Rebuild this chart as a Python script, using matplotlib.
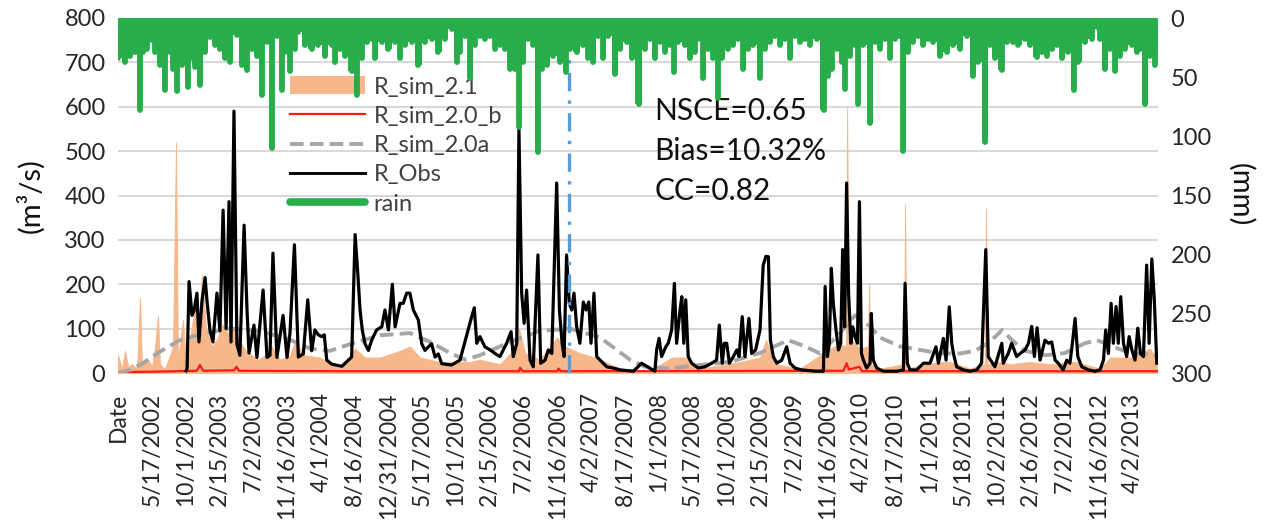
import numpy as np
import matplotlib
matplotlib.use("Agg")
import matplotlib.pyplot as plt
from matplotlib.patches import Patch
from matplotlib.lines import Line2D

plt.rcParams['font.family'] = ['Lato', 'DejaVu Sans']

# days counted from 12/31/2001 ("Date" tick)
tick_labels = ["Date", "5/17/2002", "10/1/2002", "2/15/2003", "7/2/2003", "11/16/2003",
               "4/1/2004", "8/16/2004", "12/31/2004", "5/17/2005", "10/1/2005", "2/15/2006",
               "7/2/2006", "11/16/2006", "4/2/2007", "8/17/2007", "1/1/2008", "5/17/2008",
               "10/1/2008", "2/15/2009", "7/2/2009", "11/16/2009", "4/2/2010", "8/17/2010",
               "1/1/2011", "5/18/2011", "10/2/2011", "2/16/2012", "7/2/2012", "11/16/2012",
               "4/2/2013"]
tick_step = 137
split_day = 1827  # calibration / validation split
stats = ["NSCE=0.65", "Bias=10.32%", "CC=0.82"]

obs_day = [276, 280, 288, 300, 308, 320, 328, 340, 353, 361, 373, 385, 401, 413, 426, 438, 450, 458,
           470, 482, 494, 511, 523, 531, 551, 563, 588, 604, 616, 628, 644, 669, 685, 697,
           715, 731, 751, 769, 785, 798, 812, 826, 836, 846, 866, 907, 947, 961, 971, 981, 990,
           1001, 1015, 1028, 1048, 1069, 1082, 1096, 1112, 1123, 1143, 1156, 1170, 1183, 1197,
           1217, 1231, 1244, 1271, 1285, 1298, 1312, 1352,
           1386, 1433, 1444, 1454, 1467, 1487, 1508, 1528, 1548, 1575, 1593, 1602, 1616, 1625,
           1636, 1646, 1656, 1670, 1683, 1702, 1713, 1731, 1744, 1758, 1778, 1789, 1800, 1808,
           1818, 1829, 1839, 1848, 1859, 1872, 1886, 1897, 1908, 1917, 1929, 1940, 1954, 1981,
           2008, 2035, 2089,
           2122, 2176, 2183, 2193, 2203, 2220, 2230, 2244, 2255, 2264, 2278, 2285, 2293, 2301,
           2311, 2325, 2352, 2379, 2406, 2426, 2437, 2449, 2457, 2467, 2478, 2494, 2508, 2517,
           2530, 2541, 2557, 2568, 2584, 2602, 2615, 2626, 2636, 2644, 2656, 2670, 2690, 2710,
           2724, 2744, 2771, 2825,
           2859, 2866, 2875, 2883, 2891, 2899, 2910, 2920, 2929, 2937, 2945, 2953, 2961, 2970,
           2978, 2987, 2997, 3005, 3013, 3021, 3034, 3048, 3053, 3061, 3075, 3102, 3156, 3183,
           3190, 3199, 3210, 3237, 3264, 3291, 3315, 3325, 3345, 3356, 3369, 3379, 3386, 3399,
           3426, 3453, 3480, 3500, 3517, 3527,
           3554, 3582, 3588, 3608, 3622, 3642, 3656, 3676, 3690, 3703, 3714, 3725, 3737, 3757,
           3771, 3784, 3798, 3811, 3831, 3845, 3858, 3868, 3879, 3890, 3906, 3933, 3960, 3980,
           3994, 4003, 4014, 4025, 4034, 4045, 4054, 4064, 4075, 4088, 4098, 4109, 4122, 4133,
           4144, 4156, 4169, 4179, 4190, 4200, 4210]
obs_q = [5, 10, 206, 130, 140, 180, 70, 160, 215, 160, 95, 70, 180, 95, 367, 100, 386, 70,
         590, 65, 40, 333, 140, 45, 108, 35, 187, 35, 40, 270, 35, 130, 35, 90,
         289, 36, 43, 165, 50, 97, 86, 82, 86, 29, 20, 15, 36, 312, 232, 142, 97,
         66, 51, 74, 97, 104, 142, 97, 200, 104, 157, 157, 180, 180, 142,
         120, 66, 51, 66, 36, 43, 21, 18,
         29, 126, 147, 67, 82, 59, 52, 44, 37, 67, 93, 37, 67, 548,
         180, 112, 187, 29, 14, 266, 22, 29, 52, 44, 428, 142, 67, 37,
         266, 157, 142, 180, 104, 67, 160, 142, 160, 67, 180, 37, 29, 14,
         11, 7, 4,
         22, 4, 52, 78, 37, 59, 67, 97, 202, 67, 142, 172, 67, 165,
         37, 22, 11, 14, 22, 29, 108, 22, 67, 67, 22, 37, 52, 37,
         127, 37, 123, 44, 52, 97, 243, 263, 262, 74, 37, 22, 29, 59,
         22, 11, 7, 4,
         4, 195, 37, 67, 236, 157, 97, 52, 67, 278, 104, 428, 180, 67,
         104, 82, 67, 386, 44, 29, 11, 22, 134, 29, 11, 4, 4, 7,
         202, 22, 7, 7, 22, 22, 59, 22, 78, 29, 149, 67, 44, 14,
         7, 4, 7, 22, 278, 37,
         14, 67, 22, 44, 67, 37, 44, 52, 67, 105, 37, 102, 29, 74,
         67, 70, 29, 22, 7, 29, 22, 67, 123, 37, 14, 7, 4, 7,
         29, 97, 44, 157, 67, 150, 67, 172, 67, 37, 82, 52, 29, 101,
         44, 37, 243, 67, 257, 165, 22]

sim21_day = [0, 16, 28, 41, 57, 77, 89, 97, 122, 138, 150, 162, 170, 190, 211, 223, 235, 243,
             263, 276, 292, 312, 324, 340, 357, 381, 405, 422, 446, 470, 494, 519, 543, 567,
             596, 624, 657, 697, 717, 758, 819, 900, 961, 1001, 1062, 1143, 1183, 1224, 1305,
             1427, 1467, 1548, 1609, 1625, 1650, 1710, 1779, 1812, 1872, 1933, 2035, 2156,
             2245, 2298, 2359, 2521, 2602, 2626, 2663, 2764, 2886, 2926, 2950, 2955, 2962,
             3007, 3040, 3044, 3050, 3088, 3186, 3190, 3195, 3332, 3372, 3453, 3513, 3518,
             3524, 3575, 3615, 3696, 3777, 3879, 3980, 4021, 4102, 4183, 4211]
sim21_q = [40, 10, 50, 15, 20, 10, 170, 20, 30, 15, 60, 130, 20, 10, 40, 60, 520, 30,
           120, 20, 80, 150, 60, 220, 100, 60, 80, 110, 90, 100, 70, 50, 40, 30,
           40, 60, 30, 40, 70, 40, 35, 10, 55, 35, 35, 50, 60, 35, 25,
           25, 30, 20, 55, 100, 45, 30, 80, 60, 45, 35, 10, 5,
           35, 35, 10, 25, 35, 75, 20, 10, 55, 65, 60, 600, 80,
           55, 60, 200, 20, 10, 20, 380, 10, 25, 25, 10, 20, 370,
           20, 25, 20, 25, 20, 25, 10, 35, 35, 55, 30]

sim20a_day = [0, 49, 101, 170, 251, 353, 454, 576, 697, 778, 859, 940, 1062, 1183, 1265, 1346,
              1406, 1467, 1589, 1710, 1832, 1954, 2014, 2075, 2136, 2237, 2359, 2480, 2602,
              2716, 2785, 2845, 2926, 2987, 3048, 3088, 3169, 3251, 3332, 3413, 3473, 3534,
              3583, 3623, 3676, 3757, 3838, 3919, 3968, 4021, 4102, 4211]
sim20a_q = [0, 7, 22, 48, 74, 90, 100, 95, 75, 55, 50, 65, 85, 90, 70, 45,
            30, 40, 70, 95, 100, 80, 55, 30, 14, 10, 18, 25, 45,
            74, 60, 44, 90, 130, 105, 80, 60, 52, 44, 44, 50, 70,
            97, 74, 50, 40, 45, 67, 74, 62, 45, 40]

sim20b_day = [0, 150, 320, 332, 345, 470, 480, 490, 900, 1625, 1630, 1640, 1780, 1785, 1795,
              2940, 2953, 2962, 3005, 3015, 4215]
sim20b_q = [2, 3, 5, 18, 5, 6, 14, 5, 4, 4, 12, 4, 4, 10, 4, 5, 22, 8, 14, 4, 4]

rain_day = [1, 28, 49, 69, 89, 103, 116, 137, 150, 170, 190, 211, 224, 238, 258, 285, 299, 312,
            332, 353, 373, 393, 413, 434, 454, 481, 501, 522, 542, 562, 582, 603, 625, 643, 663,
            677, 697, 717, 731, 758, 785, 812, 839, 866, 880, 900, 920, 947, 967, 988, 1008,
            1028, 1042, 1069, 1096, 1123, 1143, 1163, 1190, 1217, 1244, 1271, 1298, 1325, 1352,
            1373, 1386, 1406, 1427, 1447, 1467, 1487, 1508, 1528, 1548, 1569, 1589, 1609, 1627,
            1643, 1663, 1683, 1701, 1717, 1738, 1764, 1791, 1816, 1832, 1859, 1886, 1906, 1926,
            1947, 1967, 1987, 2014, 2035, 2062, 2082, 2112, 2136, 2156, 2176, 2197, 2217, 2237,
            2255, 2271, 2298, 2318, 2339, 2352, 2372, 2392, 2413, 2433, 2449, 2474, 2494, 2514,
            2534, 2555, 2575, 2602, 2622, 2643, 2663, 2683, 2704, 2724, 2744, 2764, 2785, 2805,
            2832, 2861, 2879, 2893, 2913, 2933, 2946, 2967, 2987, 3000, 3021, 3048, 3068, 3088,
            3109, 3129, 3149, 3167, 3183, 3203, 3223, 3244, 3264, 3284, 3304, 3331, 3359, 3386,
            3413, 3440, 3464, 3487, 3514, 3534, 3554, 3582, 3602, 3629, 3649, 3676, 3696, 3723,
            3744, 3764, 3784, 3804, 3825, 3852, 3876, 3892, 3919, 3946, 3967, 3980, 4000, 4021,
            4041, 4061, 4081, 4109, 4129, 4142, 4162, 4183, 4203, 4215]
rain_mm = [34, 37, 32, 29, 78, 29, 26, 19, 29, 40, 61, 29, 43, 62, 40, 58, 34, 41,
           57, 29, 16, 23, 26, 34, 37, 14, 40, 44, 26, 32, 65, 20, 110, 15, 61,
           29, 45, 26, 12, 23, 26, 23, 32, 23, 37, 26, 32, 45, 65, 34, 20,
           18, 34, 20, 26, 20, 34, 23, 20, 40, 20, 18, 29, 18, 9,
           37, 29, 15, 51, 23, 15, 18, 15, 26, 23, 26, 43, 43, 92,
           37, 18, 23, 113, 43, 40, 32, 37, 46, 26, 29, 23, 34, 37,
           15, 34, 15, 47, 26, 20, 34, 73, 26, 18, 34, 20, 29, 23,
           46, 20, 23, 34, 29, 18, 51, 26, 34, 68, 34, 26, 23, 18,
           43, 26, 23, 51, 26, 20, 15, 23, 18, 34, 15, 20, 18, 23,
           18, 78, 49, 43, 26, 37, 60, 32, 23, 73, 23, 89, 20, 26,
           18, 34, 18, 15, 112, 29, 20, 15, 23, 18, 20, 32, 29, 23,
           26, 15, 49, 37, 105, 23, 34, 44, 20, 20, 23, 18, 23, 33,
           29, 32, 26, 23, 34, 29, 61, 37, 20, 18, 8, 18, 43, 26,
           45, 32, 26, 23, 29, 26, 73, 32, 40, 20]

orange = "#F6B88A"
green = "#27AE4B"

fig = plt.figure(figsize=(12.79, 5.21), dpi=100)
ax = fig.add_axes([118 / 1279, 1 - 373 / 521, 1040 / 1279, 355 / 521])
ax.set_xlim(0, 4215)
ax.set_ylim(0, 800)
ax.set_yticks(np.arange(0, 801, 100))
ax.yaxis.grid(True, color="#D9D9D9", lw=1.5)
ax.set_axisbelow(True)

ax.fill_between(sim21_day, 0, sim21_q, color=orange, lw=0.6, edgecolor=orange, zorder=2)
ax.plot(sim20b_day, sim20b_q, color="#FF1A1A", lw=1.6, zorder=3)
ax.plot(sim20a_day, sim20a_q, color="#A6A6A6", lw=2.8, dashes=(3.5, 1.6), zorder=3)
ax.plot(obs_day, obs_q, color="black", lw=2.3, zorder=4)
ax.vlines(split_day, 0, 755, color="#5B9BD5", lw=2.4, linestyles=[(0, (5.5, 2.8, 1.0, 2.8))], zorder=5)

ticks = [i * tick_step for i in range(len(tick_labels))]
ax.set_xticks(ticks)
ax.set_xticklabels(tick_labels, rotation=90, va="top", ha="center", fontsize=16.5, color="#262626")
ax.tick_params(axis="x", length=0, pad=14)
ax.tick_params(axis="y", length=0, pad=9, labelsize=17, labelcolor="#262626")

for i, s in enumerate(stats):
    ax.text(0.516, 0.738 - i * 0.112, s, transform=ax.transAxes, fontsize=21.5,
            va="center", ha="left", color="#111111", zorder=6)

handles = [Patch(facecolor=orange, edgecolor="none"),
           Line2D([], [], color="#FF1A1A", lw=1.6),
           Line2D([], [], color="#A6A6A6", lw=2.8, dashes=(3.5, 1.6)),
           Line2D([], [], color="black", lw=2.1),
           Line2D([], [], color=green, lw=5.5, solid_capstyle="round")]
labels = ["R_sim_2.1", "R_sim_2.0_b", "R_sim_2.0a", "R_Obs", "rain"]
leg = ax.legend(handles, labels, loc="upper left", bbox_to_anchor=(0.156, 0.862), frameon=False,
                fontsize=17, handlelength=3.2, handleheight=0.8, handletextpad=0.35,
                labelspacing=0.34, borderaxespad=0)
for t in leg.get_texts():
    t.set_color("#404040")

ax2 = ax.twinx()
ax2.set_ylim(300, 0)
ax2.set_yticks(np.arange(0, 301, 50))
ax2.fill_between(rain_day, 0, rain_mm, step="mid", color=green, lw=0)
ax2.vlines(rain_day, 0, rain_mm, color=green, lw=4.2, capstyle="round")
ax2.tick_params(axis="y", length=0, pad=9, labelsize=17, labelcolor="#262626")

for a in (ax, ax2):
    for sp in a.spines.values():
        sp.set_visible(False)

fig.text(30 / 1279, 1 - 196 / 521, "(m³/s)", rotation=90, ha="center", va="center",
         fontsize=21, color="#111111")
fig.text(1240 / 1279, 1 - 195 / 521, "(mm)", rotation=270, ha="center", va="center",
         fontsize=21, color="#111111")

fig.savefig("out.png", dpi=100)
